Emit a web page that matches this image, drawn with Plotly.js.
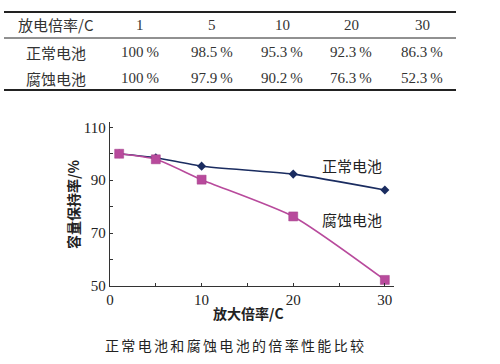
<!DOCTYPE html>
<html><head><meta charset="utf-8">
<script src="https://cdn.plot.ly/plotly-3.0.1.min.js"></script>
<style>html,body{margin:0;padding:0;background:#fff;}#chart{width:500px;height:364px;}</style>
</head><body><div id="chart"></div>
<script>
// ---- data ----
var rateLabel = '放电倍率/C';
var rates = [1, 5, 10, 20, 30];
var seriesNames = ['正常电池', '腐蚀电池'];
var normalVals = [100, 98.5, 95.3, 92.3, 86.3];
var corrodedVals = [100, 97.9, 90.2, 76.3, 52.3];
var xTickVals = [0, 5, 10, 15, 20, 25, 30];
var xTickText = ['0', '', '10', '', '20', '', '30'];
var yTickVals = [50, 60, 70, 80, 90, 100, 110];
var yTickText = ['50', '', '70', '', '90', '', '110'];
var xTitle = '放大倍率/C';
var yTitle = '容量保持率/%';
var caption = '正常电池和腐蚀电池的倍率性能比较';

// ---- layout geometry (pixels) ----
var W = 500, H = 364;
var L = 110, R = 394, T = 122, B = 286;
function px(x) { return (x - L) / (R - L); }
function py(y) { return (B - y) / (B - T); }

var serif = '"Liberation Serif", "Noto Sans CJK SC", serif';
var cjk = '"Noto Sans CJK SC", "Liberation Serif", serif';
var navy = '#1a2c60';
var pink = '#b84a9c';
var txt = '#333333';

var normalTrace = {x: rates, y: normalVals, name: seriesNames[0], mode: 'lines+markers',
   line: {color: navy, width: 1.6, shape: 'spline', smoothing: 0.6},
   marker: {symbol: 'diamond', size: 7, color: navy}};
var corrodedTrace = {x: rates, y: corrodedVals, name: seriesNames[1], mode: 'lines+markers',
   line: {color: pink, width: 1.6, shape: 'spline', smoothing: 0.6},
   marker: {symbol: 'square', size: 9, color: pink, line: {color: '#a23f88', width: 0.5}}};
var traces = [normalTrace, corrodedTrace];

var annotations = [];
var shapes = [];

// table
var colX = [56, 140, 212, 282, 351, 422];
var rowY = [25, 52, 78];
function pct(v) { return (v === 100 ? '100' : v.toFixed(1)) + '\u2009%'; }
function tAnn(text, x, y, font) {
  annotations.push({text: text, xref: 'paper', yref: 'paper', x: px(x), y: py(y),
    xanchor: 'center', yanchor: 'middle', showarrow: false,
    font: {family: font, size: 15, color: txt}});
}
tAnn(rateLabel, colX[0], rowY[0], cjk);
rates.forEach(function (r, i) { tAnn(String(r), colX[i + 1], rowY[0], serif); });
tAnn(seriesNames[0], colX[0], rowY[1], cjk);
normalVals.forEach(function (v, i) { tAnn(pct(v), colX[i + 1], rowY[1], serif); });
tAnn(seriesNames[1], colX[0], rowY[2], cjk);
corrodedVals.forEach(function (v, i) { tAnn(pct(v), colX[i + 1], rowY[2], serif); });

function hLine(y, w) {
  shapes.push({type: 'line', xref: 'paper', yref: 'paper', x0: px(4), x1: px(456), y0: py(y), y1: py(y),
    line: {color: '#222', width: w}});
}
hLine(12, 1.8);
hLine(38, 1);
hLine(90, 2.2);

// series labels in plot
annotations.push({text: seriesNames[0], xref: 'paper', yref: 'paper', x: px(352), y: py(165),
  xanchor: 'center', yanchor: 'middle', showarrow: false, font: {family: cjk, size: 15, color: '#222'}});
annotations.push({text: seriesNames[1], xref: 'paper', yref: 'paper', x: px(352), y: py(219),
  xanchor: 'center', yanchor: 'middle', showarrow: false, font: {family: cjk, size: 15, color: '#222'}});

// axis titles
annotations.push({text: '<b>' + xTitle + '</b>', xref: 'paper', yref: 'paper', x: px(248), y: py(313),
  xanchor: 'center', yanchor: 'middle', showarrow: false, font: {family: cjk, size: 14, color: '#222'}});
annotations.push({text: '<b>' + yTitle + '</b>', xref: 'paper', yref: 'paper', x: px(73), y: py(205),
  xanchor: 'center', yanchor: 'middle', showarrow: false, textangle: -90,
  font: {family: cjk, size: 14, color: '#222'}});

// caption
annotations.push({text: caption.split('').join('\u2006'), xref: 'paper', yref: 'paper', x: px(234), y: py(345),
  xanchor: 'center', yanchor: 'middle', showarrow: false, font: {family: cjk, size: 14, color: '#222'}});

var layout = {
  width: W, height: H,
  margin: {l: L, r: W - R, t: T, b: H - B, pad: 0},
  paper_bgcolor: '#fff', plot_bgcolor: '#fff',
  showlegend: false,
  xaxis: {range: [0, 31], tickvals: xTickVals, ticktext: xTickText, ticks: 'inside', ticklen: 3,
    tickcolor: '#333', showline: true, linecolor: '#333', linewidth: 1.2, showgrid: false, zeroline: false,
    tickfont: {family: serif, size: 15, color: '#222'}},
  yaxis: {range: [50, 112], tickvals: yTickVals, ticktext: yTickText, ticks: 'inside', ticklen: 3,
    tickcolor: '#333', showline: true, linecolor: '#333', linewidth: 1.2, showgrid: false, zeroline: false,
    tickfont: {family: serif, size: 15, color: '#222'}},
  annotations: annotations,
  shapes: shapes
};

Plotly.newPlot('chart', traces, layout, {staticPlot: true, displayModeBar: false});
</script>
</body></html>
